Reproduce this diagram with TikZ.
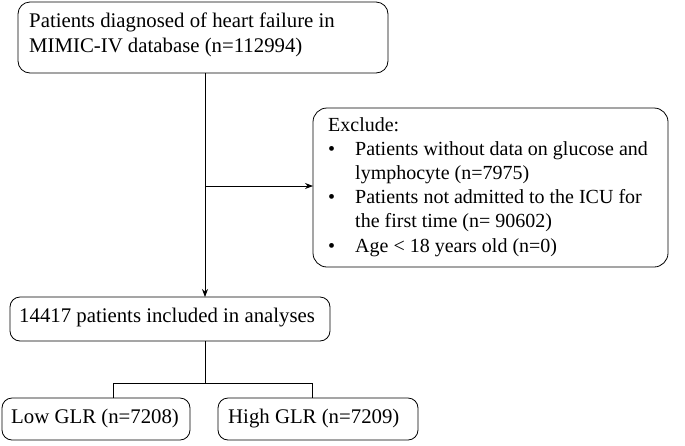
\documentclass[tikz,border=0pt]{standalone}
\usepackage{fontspec}
\setmainfont{Liberation Serif}
\usetikzlibrary{arrows.meta}
\begin{document}
\begin{tikzpicture}[x=1pt,y=-1pt,
  txt/.style={font=\fontsize{20.8}{24.5}\selectfont,align=left,anchor=north west,inner sep=0pt},
  conn/.style={thick},
  arr/.style={thick,-{Stealth[length=8pt,width=6pt]}}]
\useasboundingbox (0,0) rectangle (685,445);
\draw[thick,rounded corners=12pt] (18,2) rectangle (388,73);
\node[txt] (t1) at (29,13) {Patients diagnosed of heart failure in\\MIMIC-IV database (n=112994)};
\draw[thick,rounded corners=14pt] (313,108) rectangle (668,267);
\node[txt,font=\fontsize{20}{24.2}\selectfont] (t3) at (328,117) {Exclude:\\\makebox[27pt][l]{•}Patients without data on glucose and\\\hspace*{27pt}lymphocyte (n=7975)\\\makebox[27pt][l]{•}Patients not admitted to the ICU for\\\hspace*{27pt}the first time (n= 90602)\\\makebox[27pt][l]{•}Age < 18 years old (n=0)};
\draw[thick,rounded corners=10pt] (10,297) rectangle (330,341);
\node[txt] (t4) at (19,308) {14417 patients included in analyses};
\draw[thick,rounded corners=10pt] (2,398) rectangle (190,440);
\node[txt] (t5) at (11,409) {Low GLR (n=7208)};
\draw[thick,rounded corners=10pt] (218,398) rectangle (418,440);
\node[txt] (t6) at (228,409) {High GLR (n=7209)};
\coordinate (a) at (205,73);
\coordinate (b) at (205,297);
\coordinate (c) at (205,186);
\coordinate (d) at (313,186);
\draw[arr] (a) -- (b);
\draw[arr] (c) -- (d);
\coordinate (e) at (205,341);
\coordinate (f) at (205,383);
\draw[conn] (e) -- (f);
\draw[conn] (113,398) -- (113,383) -- (312,383) -- (312,398);
\end{tikzpicture}
\end{document}
